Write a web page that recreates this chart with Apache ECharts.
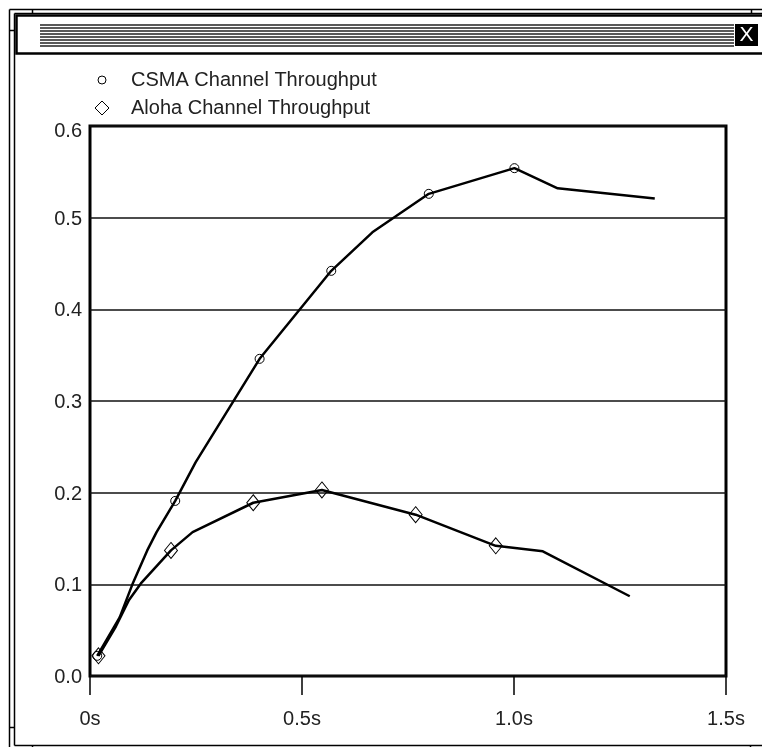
<!DOCTYPE html>
<html><head><meta charset="utf-8">
<script src="https://cdn.jsdelivr.net/npm/echarts@6/dist/echarts.min.js"></script>
<style>html,body{margin:0;padding:0;background:#fff}#c{width:762px;height:747px}</style>
</head><body><div id="c"></div>
<script>
// ---- data ----
const seriesNames = ['CSMA Channel Throughput', 'Aloha Channel Throughput'];
const xTicks = [0, 0.5, 1.0, 1.5];
const xTickLabels = ['0s', '0.5s', '1.0s', '1.5s'];
const yTicks = [0.0, 0.1, 0.2, 0.3, 0.4, 0.5, 0.6];

const csmaTime  = [0.017, 0.070, 0.100, 0.135, 0.157, 0.201, 0.249, 0.400, 0.569, 0.666, 0.799, 1.001, 1.103, 1.332];
const csmaValue = [0.022, 0.064, 0.100, 0.137, 0.157, 0.191, 0.233, 0.346, 0.442, 0.484, 0.526, 0.554, 0.532, 0.521];
const csmaMarked = [0, 5, 7, 8, 10, 11];

const alohaTime  = [0.020, 0.061, 0.092, 0.120, 0.191, 0.242, 0.385, 0.547, 0.768, 0.957, 1.068, 1.273];
const alohaValue = [0.022, 0.054, 0.083, 0.101, 0.137, 0.157, 0.189, 0.203, 0.176, 0.142, 0.136, 0.087];
const alohaMarked = [0, 4, 6, 7, 8, 9];

// ---- build ----
function build(t, v, marked) {
  return t.map((x, i) => marked.indexOf(i) >= 0 ? [x, v[i]] : { value: [x, v[i]], symbol: 'none' });
}
const FONT = 'Liberation Sans, Arial, sans-serif';
const hollow = { color: 'rgba(0,0,0,0)', borderColor: '#000', borderWidth: 1 };

// window frame decoration
const deco = [];
const L = (x1, y1, x2, y2, w) => deco.push({ type: 'line', silent: true, shape: { x1, y1, x2, y2 }, style: { stroke: '#000', lineWidth: w || 1.5 } });
L(9.5, 9.5, 762, 9.5); L(9.5, 9.5, 9.5, 747);
L(14.5, 13.5, 762, 13.5); L(14.5, 13.5, 14.5, 745.5); L(14.5, 745.5, 762, 745.5);
L(9.5, 30.5, 14.5, 30.5); L(9.5, 727.5, 14.5, 727.5);
L(32.5, 9.5, 32.5, 13.5); L(751.5, 9.5, 751.5, 13.5);
L(32.5, 745.5, 32.5, 747); L(750.5, 745.5, 750.5, 747);
deco.push({ type: 'rect', silent: true, shape: { x: 16.5, y: 15.5, width: 760, height: 38 }, style: { fill: 'none', stroke: '#000', lineWidth: 2.5 } });
for (let i = 0; i < 8; i++) {
  deco.push({ type: 'line', silent: true, shape: { x1: 40, y1: 25 + i * 3, x2: 734, y2: 25 + i * 3 }, style: { stroke: '#222', lineWidth: 1.4 } });
}
deco.push({ type: 'rect', silent: true, shape: { x: 735, y: 24, width: 23, height: 22 }, style: { fill: '#000' } });
deco.push({ type: 'text', silent: true, x: 746.5, y: 35.5, style: { text: 'X', fill: '#fff', font: '21px ' + FONT, align: 'center', verticalAlign: 'middle' } });

const chart = echarts.init(document.getElementById('c'), null, { renderer: 'canvas' });
const legendText = (pad) => ({ fontSize: 20, color: '#222', fontFamily: FONT, padding: [0, 0, 0, pad] });
chart.setOption({
  animation: false,
  backgroundColor: '#fff',
  graphic: deco,
  legend: [
    { data: [{ name: seriesNames[0], icon: 'circle' }], left: 97.5, top: 70, padding: 0, itemWidth: 8, itemHeight: 8,
      itemStyle: hollow, textStyle: legendText(20), selectedMode: false },
    { data: [{ name: seriesNames[1], icon: 'diamond' }], left: 94.5, top: 98, padding: 0, itemWidth: 14, itemHeight: 14,
      itemStyle: hollow, textStyle: legendText(17), selectedMode: false }
  ],
  grid: { left: 90, right: 36, top: 126, bottom: 71, show: true, borderColor: '#000', borderWidth: 3, backgroundColor: 'transparent' },
  xAxis: {
    type: 'value', min: xTicks[0], max: xTicks[xTicks.length - 1], interval: 0.5,
    axisLine: { show: false },
    axisTick: { show: true, length: 19, inside: false, lineStyle: { color: '#000', width: 1.5 } },
    splitLine: { show: false },
    axisLabel: { margin: 33, fontSize: 20, color: '#222', fontFamily: FONT, showMinLabel: true, showMaxLabel: true,
      formatter: v => { const i = xTicks.findIndex(t => Math.abs(t - v) < 1e-9); return i >= 0 ? xTickLabels[i] : ''; } }
  },
  yAxis: {
    type: 'value', min: yTicks[0], max: yTicks[yTicks.length - 1], interval: 0.1,
    axisLine: { show: false }, axisTick: { show: false },
    splitLine: { show: true, lineStyle: { color: '#111', width: 1.5 } },
    axisLabel: { margin: 8, fontSize: 20, color: '#222', fontFamily: FONT, showMinLabel: true, showMaxLabel: true,
      formatter: v => Math.abs(v - yTicks[yTicks.length - 1]) < 1e-9 ? '{top|' + v.toFixed(1) + '}' : '{n|' + v.toFixed(1) + '}',
      rich: { top: { fontSize: 20, padding: [10, 0, 0, 0] }, n: { fontSize: 20, padding: [3, 0, 0, 0] } } }
  },
  series: [
    { type: 'line', name: seriesNames[0], data: build(csmaTime, csmaValue, csmaMarked), symbol: 'circle', symbolSize: 9,
      showAllSymbol: true, lineStyle: { color: '#000', width: 2.5 }, itemStyle: hollow, emphasis: { disabled: true } },
    { type: 'line', name: seriesNames[1], data: build(alohaTime, alohaValue, alohaMarked), symbol: 'diamond', symbolSize: [13, 16],
      showAllSymbol: true, lineStyle: { color: '#000', width: 2.5 }, itemStyle: hollow, emphasis: { disabled: true } }
  ]
});
</script></body></html>
